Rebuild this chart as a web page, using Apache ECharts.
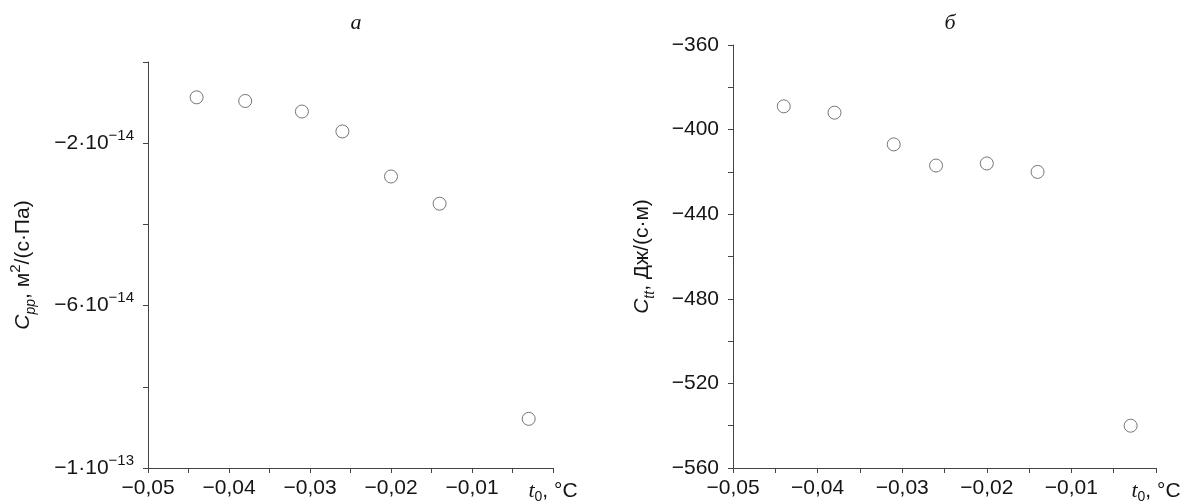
<!DOCTYPE html>
<html>
<head>
<meta charset="utf-8">
<script src="https://cdn.jsdelivr.net/npm/echarts@6/dist/echarts.min.js"></script>
<style>
  html, body { margin: 0; padding: 0; background: #fff; }
  #main { width: 1184px; height: 503px; }
</style>
</head>
<body>
<div id="main"></div>
<script>
// температура t0, °C (общая для обоих графиков)
var tempX = [-0.044, -0.038, -0.031, -0.026, -0.020, -0.014, -0.003];
// а) Cpp, м2/(с·Па)
var cppValues = [-8.7e-15, -9.6e-15, -1.22e-14, -1.71e-14, -2.82e-14, -3.49e-14, -8.79e-14];
// б) Ctt, Дж/(с·м)
var cttValues = [-389, -392, -407, -417, -416, -420, -540];
// подписи делений
var xTickLabels = ['−0,05', '−0,04', '−0,03', '−0,02', '−0,01'];
var cppTickLabels = {'-2': '{n|−2·10}{sup|−14}', '-6': '{n|−6·10}{sup|−14}', '-10': '{n|−1·10}{sup|−13}'};

var chart = echarts.init(document.getElementById('main'));

var FONT = 'Liberation Sans';
var TXT = '#151515';
var AX = '#444';
var FS = 21;

var richText = {
    n: {fontFamily: FONT, fontSize: FS, color: TXT},
    it: {fontFamily: FONT, fontSize: FS, fontStyle: 'italic', color: TXT},
    its: {fontFamily: 'Liberation Serif', fontSize: 22, fontStyle: 'italic', color: TXT},
    sub: {fontFamily: FONT, fontSize: 14, fontStyle: 'italic', color: TXT, padding: [16, 0, 0, 0]},
    sub0: {fontFamily: FONT, fontSize: 14, color: TXT, padding: [12, 0, 0, 0]},
    sup: {fontFamily: FONT, fontSize: 15, color: TXT, padding: [0, 0, 15, 0]}
};

function xLabel(v) {
    var k = Math.round(v * 1000);
    if (k === 0) return '{its|t}{sub0|0}{n|, °C}';
    if (k % 10 !== 0) return '';
    return '{n|' + xTickLabels[(k + 50) / 10] + '}';
}

function makeX(gridIndex) {
    return {
        type: 'value', gridIndex: gridIndex,
        min: -0.05, max: 0, interval: 0.005,
        axisLine: {show: true, onZero: false, lineStyle: {color: AX, width: 1}},
        axisTick: {show: true, length: 5, lineStyle: {color: AX}},
        splitLine: {show: false},
        axisLabel: {margin: 10, fontSize: FS, fontFamily: FONT, color: TXT, formatter: xLabel, rich: richText}
    };
}

var scatterStyle = {color: '#fff', borderColor: '#555', borderWidth: 1};

var options = {
    animation: false,
    title: [
        {text: 'а', left: 351, top: 7, textAlign: 'center',
            textStyle: {fontFamily: 'Liberation Serif', fontStyle: 'italic', fontWeight: 'normal', fontSize: 22, color: TXT}},
        {text: 'б', left: 945, top: 7, textAlign: 'center',
            textStyle: {fontFamily: 'Liberation Serif', fontStyle: 'italic', fontWeight: 'normal', fontSize: 22, color: TXT}}
    ],
    grid: [
        {left: 148, top: 62, width: 405, height: 406, containLabel: false, outerBoundsMode: 'none'},
        {left: 733, top: 45, width: 423, height: 423, containLabel: false, outerBoundsMode: 'none'}
    ],
    xAxis: [makeX(0), makeX(1)],
    yAxis: [
        {
            type: 'value', gridIndex: 0,
            min: -1e-13, max: 0, interval: 2e-14,
            name: '{it|C}{sub|pp}{n|, м}{sup|2}{n|/(с·Па)}',
            nameLocation: 'middle', nameGap: 110,
            nameTextStyle: {fontSize: FS, fontFamily: FONT, color: TXT, rich: richText},
            axisLine: {show: true, onZero: false, lineStyle: {color: AX, width: 1}},
            axisTick: {show: true, length: 5, lineStyle: {color: AX}},
            splitLine: {show: false},
            axisLabel: {
                margin: 14, fontSize: FS, fontFamily: FONT, color: TXT, rich: richText,
                formatter: function (v) {
                    var k = Math.round(v * 1e14);
                    return cppTickLabels[String(k)] || '';
                }
            }
        },
        {
            type: 'value', gridIndex: 1,
            min: -560, max: -360, interval: 20,
            name: '{it|C}{sub|tt}{n|, Дж/(с·м)}',
            nameLocation: 'middle', nameGap: 76,
            nameTextStyle: {fontSize: FS, fontFamily: FONT, color: TXT, rich: richText},
            axisLine: {show: true, onZero: false, lineStyle: {color: AX, width: 1}},
            axisTick: {show: true, length: 5, lineStyle: {color: AX}},
            splitLine: {show: false},
            axisLabel: {
                margin: 14, fontSize: FS, fontFamily: FONT, color: TXT, rich: richText,
                formatter: function (v) {
                    if (Math.round(v) % 40 !== 0) return '';
                    return '{n|−' + Math.abs(Math.round(v)) + '}';
                }
            }
        }
    ],
    series: [
        {
            type: 'scatter', xAxisIndex: 0, yAxisIndex: 0,
            symbol: 'circle', symbolSize: 13,
            itemStyle: scatterStyle,
            data: tempX.map(function (x, i) { return [x, cppValues[i]]; })
        },
        {
            type: 'scatter', xAxisIndex: 1, yAxisIndex: 1,
            symbol: 'circle', symbolSize: 13,
            itemStyle: scatterStyle,
            data: tempX.map(function (x, i) { return [x, cttValues[i]]; })
        }
    ]
};
chart.setOption(options, true);
</script>
</body>
</html>
